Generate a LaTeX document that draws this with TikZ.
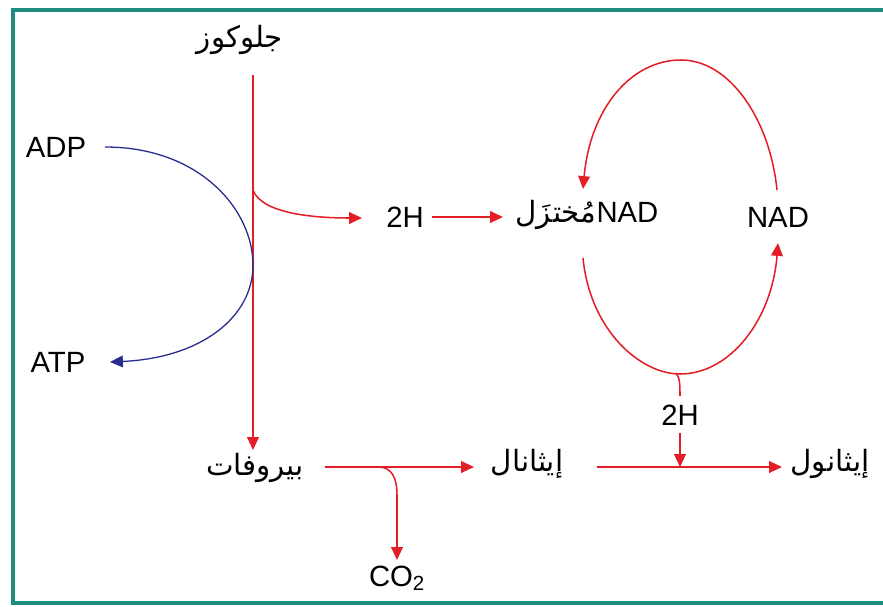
\documentclass[tikz,border=0pt]{standalone}
\usepackage{fontspec}
\setmainfont{Liberation Sans}
\newfontfamily\arabicfont[Script=Arabic]{DejaVu Sans}
\TeXXeTstate=1
\usetikzlibrary{arrows.meta}
\definecolor{myred}{RGB}{228,30,38}
\definecolor{myblue}{RGB}{40,44,140}
\definecolor{myteal}{RGB}{30,140,126}
\tikzset{
  lbl/.style={inner sep=0pt, font=\fontsize{25}{28}\selectfont},
  alb/.style={inner sep=0pt, font=\fontsize{25}{30}\arabicfont},
  redln/.style={draw=myred, line width=1.3pt},
  redarr/.style={redln, -{Triangle[length=11pt,width=10pt]}},
  bluearr/.style={draw=myblue, line width=1.1pt, -{Triangle[length=11pt,width=10pt]}},
}
\begin{document}
\begin{tikzpicture}[x=0.03cm,y=-0.03cm]
\useasboundingbox (0,0) rectangle (883,606);
\draw[myteal, line width=3.5pt] (13,10) rectangle (890,603);
% nodes
\node[alb] (glu) at (240,40) {\beginR جلوكوز\endR};
\node[alb] (pyr) at (255,468) {\beginR بيروفات\endR};
\node[alb] (eta) at (527,464) {\beginR إيثانال\endR};
\node[alb] (eto) at (830,464) {\beginR إيثانول\endR};
\node[lbl] (adp) at (56,147) {ADP};
\node[lbl] (atp) at (58,362) {ATP};
\node[lbl] (h2a) at (405,217) {2H};
\node[inner sep=0pt] (nadr) at (587,215) {{\fontsize{25}{30}\arabicfont\beginR مُختزَل\endR}\fontsize{25}{28}\selectfont NAD};
\node[lbl] (nad) at (778,217) {NAD};
\node[lbl] (h2b) at (680,415) {2H};
\node[lbl] (co2) at (397,578) {CO\textsubscript{2}};
% coordinates
\coordinate (gtop) at (253,75);
\coordinate (gbot) at (253,450);
\coordinate (br1) at (253,190);
\coordinate (h2in) at (362,218);
\coordinate (adps) at (105,147);
\coordinate (atpe) at (110,362);
\coordinate (h2out) at (432,217);
\coordinate (nadin) at (503,217);
\coordinate (topS) at (777,190);
\coordinate (topE) at (583,189);
\coordinate (lowS) at (583,258);
\coordinate (lowE) at (778,243);
\coordinate (lowB) at (676,373);
\coordinate (h2bt) at (680,396);
\coordinate (h2bs) at (680,433);
\coordinate (h2be) at (680,467);
\coordinate (pyrS) at (325,467);
\coordinate (pyrE) at (474,467);
\coordinate (etaS) at (597,467);
\coordinate (etaE) at (782,467);
\coordinate (cobr) at (378,467);
\coordinate (coE) at (397,560);
% connectors
\draw[redarr] (gtop) -- (gbot);
\draw[bluearr] (adps) .. controls (200,147) and (253,210) .. (253,265) .. controls (253,318) and (200,358) .. (atpe);
\draw[redarr] (br1) .. controls (262,215) and (320,218) .. (h2in);
\draw[redarr] (h2out) -- (nadin);
\draw[redarr] (topS) .. controls (770,120) and (730,60) .. (681,60) .. controls (630,60) and (590,110) .. (topE);
\draw[redarr] (lowS) .. controls (590,330) and (640,374) .. (680,374) .. controls (730,374) and (772,320) .. (lowE);
\draw[redln] (lowB) .. controls (680,378) and (680,385) .. (h2bt);
\draw[redarr] (h2bs) -- (h2be);
\draw[redarr] (pyrS) -- (pyrE);
\draw[redarr] (etaS) -- (etaE);
\draw[redarr] (cobr) .. controls (392,467) and (397,478) .. (397,495) -- (coE);
\end{tikzpicture}
\end{document}
